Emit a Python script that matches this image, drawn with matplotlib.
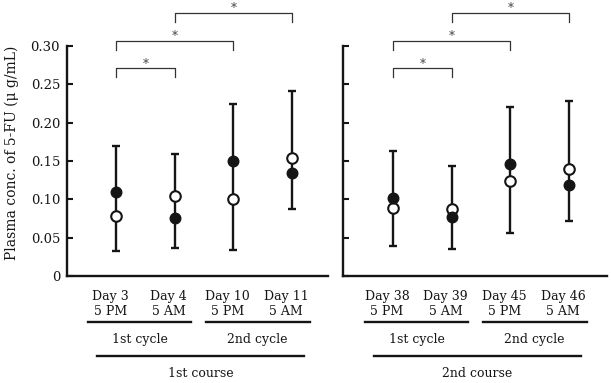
import numpy as np
import matplotlib
matplotlib.use("Agg")
import matplotlib.pyplot as plt

plt.rcParams['font.family'] = ['DejaVu Serif']
plt.rcParams['font.size'] = 9

# data
days_1 = ['Day 3', 'Day 4', 'Day 10', 'Day 11']
days_2 = ['Day 38', 'Day 39', 'Day 45', 'Day 46']
times = ['5 PM', '5 AM', '5 PM', '5 AM']
cycles = ['1st cycle', '2nd cycle']
courses = ['1st course', '2nd course']

filled_1 = [0.109, 0.076, 0.150, 0.134]
open_1 = [0.078, 0.104, 0.101, 0.154]
err_lo_1 = [0.033, 0.037, 0.034, 0.088]
err_hi_1 = [0.170, 0.159, 0.224, 0.241]

filled_2 = [0.102, 0.077, 0.146, 0.119]
open_2 = [0.089, 0.088, 0.124, 0.140]
err_lo_2 = [0.039, 0.035, 0.056, 0.072]
err_hi_2 = [0.163, 0.144, 0.221, 0.228]

# significance brackets: (i, j, bracket top)
sig_pairs = [(0, 1, 0.271), (0, 2, 0.307), (1, 3, 0.343)]

fig = plt.figure(figsize=(6.11, 3.83), dpi=100)
ax1 = fig.add_axes([67/611, 1-276/383, (328-67)/611, 230/383])
ax2 = fig.add_axes([343/611, 1-276/383, (607-343)/611, 230/383])

ink = '#151515'


def draw_panel(ax, days, filled, opn, lo, hi, course, xlim, show_labels):
    x = np.arange(len(days))
    mid = (np.array(lo) + np.array(hi)) / 2
    half = (np.array(hi) - np.array(lo)) / 2
    ax.errorbar(x, mid, yerr=half, fmt='none', ecolor=ink, elinewidth=1.7,
                capsize=3.2, capthick=1.7, zorder=2)
    ax.plot(x, opn, 'o', ms=7.6, mfc='white', mec=ink, mew=1.5, ls='none', zorder=3)
    ax.plot(x, filled, 'o', ms=7.6, mfc=ink, mec=ink, mew=1.0, ls='none', zorder=4)

    ax.set_xlim(*xlim)
    ax.set_ylim(0, 0.30)
    ax.set_yticks([0, 0.05, 0.10, 0.15, 0.20, 0.25, 0.30])
    if show_labels:
        ax.set_yticklabels(['0', '0.05', '0.10', '0.15', '0.20', '0.25', '0.30'])
    else:
        ax.set_yticklabels([])
    ax.set_xticks([])
    ax.tick_params(axis='y', direction='in', length=4, width=1.5, colors=ink,
                   labelsize=9.5, pad=5)
    for s in ['top', 'right']:
        ax.spines[s].set_visible(False)
    for s in ['left', 'bottom']:
        ax.spines[s].set_linewidth(1.7)
        ax.spines[s].set_color(ink)

    # significance brackets
    for i, j, top in sig_pairs:
        ax.plot([x[i], x[i], x[j], x[j]], [top - 0.012, top, top, top - 0.012],
                color='#333333', lw=0.9, clip_on=False)
        ax.text((x[i] + x[j]) / 2, top + 0.0008, '*', ha='center', va='baseline',
                fontsize=8.5, color='#444444', clip_on=False)

    # category labels under the axis
    tr = ax.get_xaxis_transform()
    for k in range(len(days)):
        ax.text(x[k] - 0.1, -0.087, days[k], transform=tr, ha='center', va='center',
                color=ink)
        ax.text(x[k] - 0.1, -0.155, times[k], transform=tr, ha='center', va='center',
                color=ink)
    for (a, b), lab in zip([(-0.47, 1.28), (1.53, 3.30)], cycles):
        ax.plot([a, b], [-0.2, -0.2], transform=tr, color=ink, lw=1.7, clip_on=False)
        ax.text((a + b) / 2, -0.278, lab, transform=tr, ha='center', va='center',
                color=ink)
    ax.plot([-0.33, 3.21], [-0.348, -0.348], transform=tr, color=ink, lw=1.7, clip_on=False)
    ax.text(1.44, -0.422, course, transform=tr, ha='center', va='center', color=ink)


draw_panel(ax1, days_1, filled_1, open_1, err_lo_1, err_hi_1, courses[0],
           (-0.835, 3.613), True)
draw_panel(ax2, days_2, filled_2, open_2, err_lo_2, err_hi_2, courses[1],
           (-0.852, 3.648), False)

fig.text(12/611, 1-153/383, 'Plasma conc. of 5-FU (μ g/mL)', rotation=90,
         ha='center', va='center', fontsize=10, color=ink)

fig.savefig('out.png', dpi=100)
